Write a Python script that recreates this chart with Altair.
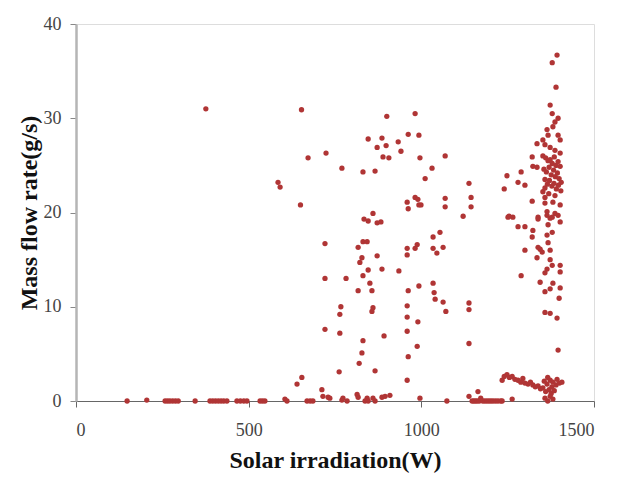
import altair as alt
import pandas as pd

# Points lying on / near zero flow (low irradiation and lower cluster)
x_zero = [148, 205, 258, 265, 272, 280, 288, 296, 345, 388, 396, 404, 412, 420, 428, 437,
          466, 476, 486, 495, 533, 540, 547, 605, 611, 669, 678, 686, 715, 730, 735, 770,
          773, 785, 814, 817, 837, 843, 846, 860, 866, 886, 895, 909, 996, 1074, 1138, 1147,
          1152, 1157, 1162, 1164, 1168, 1172, 1178, 1184, 1190, 1196, 1202, 1208, 1215, 1222,
          1230, 1234, 1263, 1358, 1366, 1373, 1381]
y_zero = [0, 0.1, 0, 0, 0, 0, 0, 0, 0, 0, 0, 0, 0, 0, 0, 0,
          0, 0, 0, 0, 0, 0, 0, 0.2, 0, 0, 0, 0, 0.5, 0.4, 0.3, 0.1,
          0.3, 0, 0.7, 0.4, 0, 0.3, 0, 0.3, 0, 0.4, 0.5, 0.6, 0.3, 0, 0.5, 0,
          0, 0, 0, 1.0, 0, 0.3, 0, 0, 0, 0, 0, 0, 0, 0,
          0, 0, 0.2, 0.3, 0, 0.5, 0.2]

# Low-flow band at high irradiation (1-3 g/s)
x_band = [640, 654, 712, 762, 959, 1234, 1240, 1248, 1255, 1263, 1271, 1280, 1288, 1294, 1300,
          1309, 1316, 1323, 1330, 1338, 1345, 1352, 1356, 1360, 1364, 1366, 1370, 1373, 1376,
          1378, 1381, 1385, 1390, 1393, 1400, 1407, 820, 866]
y_band = [1.8, 2.5, 1.2, 3.1, 2.2, 2.2, 2.6, 2.8, 2.5, 2.6, 2.3, 2.2, 2.0, 2.4, 1.9,
          1.8, 2.0, 1.7, 1.5, 1.6, 1.3, 1.4, 2.1, 1.0, 1.8, 2.5, 1.2, 2.2, 0.8,
          1.5, 2.0, 1.1, 1.7, 2.3, 1.9, 2.0, 4.0, 3.2]

# Scattered points 350-950 W
x_mid = [376, 585, 591, 650, 653, 672, 724, 721, 721, 721, 770, 782, 767, 764, 764,
         817, 831, 843, 828, 822, 872, 846, 886, 935, 831, 851, 857, 817, 857, 860,
         892, 831, 828, 846, 886, 872, 898, 900, 933, 889, 906, 831, 866, 860, 834,
         846, 872, 883, 941]
y_mid = [31.0, 23.2, 22.7, 20.8, 30.9, 25.8, 26.3, 16.7, 13.0, 7.6, 24.7, 13.0, 10.0, 9.2, 7.2,
         16.3, 16.9, 16.9, 15.2, 14.7, 15.4, 13.9, 14.0, 13.8, 13.3, 12.5, 11.7, 11.7, 9.5, 9.9,
         6.9, 6.4, 5.1, 27.8, 27.9, 26.9, 27.1, 30.2, 27.5, 25.9, 25.8, 24.3, 24.4, 19.9, 19.3,
         19.1, 18.9, 19.0, 26.5]

# Scattered points 950-1330 W
x_high = [982, 962, 993, 996, 1069, 1031, 1011, 959, 962, 982, 990, 993, 999, 1069, 1069,
          1054, 1034, 959, 959, 982, 988, 1034, 1045, 1063, 962, 993, 1034, 1037, 1040, 1063,
          1071, 959, 959, 990, 959, 988, 962, 1138, 1144, 1144, 1121, 1138, 1138, 1138, 1248,
          1240, 1251, 1289, 1280, 1300, 1254, 1265, 1280, 1300, 1323, 1321, 1300, 1289, 1321,
          1323, 1335, 1335, 1321]
y_high = [30.5, 28.3, 28.2, 25.8, 26.0, 24.7, 23.6, 21.1, 20.4, 21.6, 21.4, 20.8, 20.8, 21.5, 20.6,
          17.9, 17.4, 16.2, 15.5, 16.2, 16.6, 16.2, 15.7, 16.3, 11.7, 12.2, 12.5, 11.5, 10.8, 10.5,
          9.5, 10.1, 8.9, 8.4, 7.4, 5.8, 4.7, 23.1, 21.6, 20.6, 19.6, 10.4, 9.7, 6.1, 23.9,
          22.5, 19.5, 24.3, 23.2, 22.9, 19.6, 19.5, 18.5, 18.5, 18.1, 17.4, 16.0, 13.3, 25.9,
          24.9, 24.8, 27.3, 21.2]

# Dense column near 1350-1410 W
x_col = [1393, 1379, 1390, 1373, 1379, 1396, 1387, 1364, 1381, 1367, 1396, 1402, 1352, 1358,
         1373, 1387, 1402, 1352, 1360, 1367, 1373, 1379, 1385, 1390, 1396, 1402, 1355, 1362,
         1370, 1376, 1383, 1388, 1394, 1399, 1405, 1358, 1365, 1371, 1378, 1384, 1391, 1397,
         1352, 1369, 1387, 1404, 1358, 1358, 1358, 1381, 1402, 1364, 1387, 1338, 1379, 1396,
         1338, 1364, 1373, 1402, 1367, 1379, 1364, 1338, 1350, 1344, 1367, 1373, 1335, 1373,
         1379, 1402, 1402, 1364, 1358, 1344, 1381, 1373, 1358, 1402, 1399, 1358, 1373, 1393,
         1396]
y_col = [36.7, 35.9, 33.3, 31.4, 30.5, 30.0, 29.6, 28.8, 29.1, 28.2, 28.2, 27.7, 27.7, 27.2,
         26.9, 26.6, 26.3, 26.0, 25.8, 25.5, 25.6, 25.2, 25.9, 25.0, 25.4, 24.9, 24.6, 24.3,
         24.8, 24.0, 24.5, 23.8, 24.2, 23.6, 23.2, 23.5, 23.0, 23.4, 22.8, 23.1, 22.5, 22.9,
         22.2, 22.0, 21.8, 22.3, 22.6, 21.6, 21.0, 21.1, 20.8, 20.1, 19.9, 19.5, 19.5, 19.7,
         19.3, 19.7, 19.4, 19.0, 18.7, 17.9, 17.6, 16.3, 15.8, 16.1, 16.8, 16.0, 15.2, 15.0,
         14.4, 14.4, 13.7, 14.0, 13.6, 12.6, 12.5, 11.9, 11.6, 12.0, 10.9, 9.4, 9.3, 8.8,
         5.4]

xs = x_zero + x_band + x_mid + x_high + x_col
ys = y_zero + y_band + y_mid + y_high + y_col
df = pd.DataFrame({"irr": xs, "flow": ys})

FONT = "Liberation Serif"

points = alt.Chart(df).mark_circle(size=28, color="#B03535", opacity=1).encode(
    x=alt.X("irr:Q",
            scale=alt.Scale(domain=[0, 1500], nice=False),
            axis=alt.Axis(title="Solar irradiation(W)", values=[0, 500, 1000, 1500],
                          format="d",
                          grid=False, domainColor="#666666", domainWidth=1,
                          tickColor="#666666", tickSize=6, labelPadding=14,
                          labelFont=FONT, labelFontSize=18, labelColor="#444444",
                          titleFont=FONT, titleFontSize=24, titleFontWeight="bold",
                          titleColor="#111111", titlePadding=9)),
    y=alt.Y("flow:Q",
            scale=alt.Scale(domain=[0, 40], nice=False),
            axis=alt.Axis(title="Mass flow rate(g/s)", values=[0, 10, 20, 30, 40],
                          format="d",
                          grid=False, domainColor="#B5B5B5", domainWidth=2.5,
                          tickColor="#888888", tickSize=6, labelPadding=9,
                          labelFont=FONT, labelFontSize=18, labelColor="#444444",
                          titleFont=FONT, titleFontSize=24, titleFontWeight="bold",
                          titleColor="#111111", titlePadding=2)),
)

chart = points.properties(
    width=518, height=377,
    autosize=alt.AutoSizeParams(type="none"),
    padding={"left": 68, "top": 16, "right": 22, "bottom": 76},
).configure_view(stroke=None).configure(background="white")

chart.save("out.html", embed_options={"renderer": "svg", "actions": False})
